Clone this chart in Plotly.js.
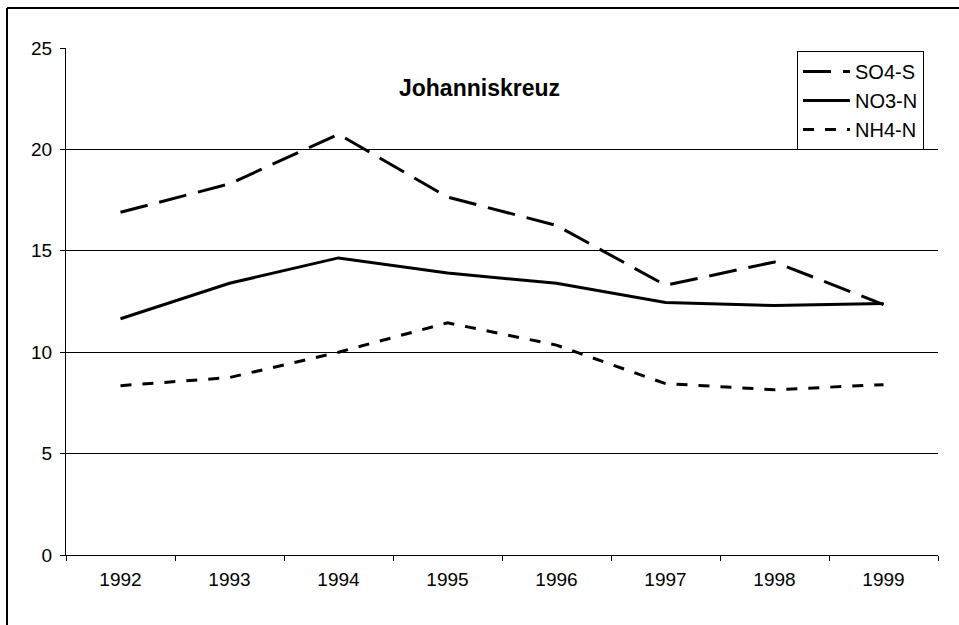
<!DOCTYPE html>
<html>
<head>
<meta charset="utf-8">
<script src="https://cdn.plot.ly/plotly-3.0.1.min.js"></script>
<style>
html,body{margin:0;padding:0;background:#fff;}
#chart{width:959px;height:625px;}
</style>
</head>
<body>
<div id="chart"></div>
<script>
const years = ["1992","1993","1994","1995","1996","1997","1998","1999"];
const so4s = [16.9, 18.3, 20.75, 17.65, 16.25, 13.3, 14.45, 12.35];
const no3n = [11.65, 13.4, 14.65, 13.9, 13.4, 12.45, 12.3, 12.4];
const nh4n = [8.35, 8.75, 10.0, 11.45, 10.35, 8.45, 8.15, 8.4];
const seriesNames = ["SO4-S", "NO3-N", "NH4-N"];
const yTicks = [0, 5, 10, 15, 20, 25];
const yGrid = [5, 10, 15, 20];
const titleText = "Johanniskreuz";

const FONT = "Liberation Sans, Arial, sans-serif";

const traces = [
  {x: years, y: so4s, name: seriesNames[0], type: "scatter", mode: "lines", legendgroup: "a",
   line: {color: "#000", width: 3, dash: "28px,12px"}},
  {x: years, y: no3n, name: seriesNames[1], type: "scatter", mode: "lines", legendgroup: "b",
   line: {color: "#000", width: 3}},
  {x: years, y: nh4n, name: seriesNames[2], type: "scatter", mode: "lines", legendgroup: "c",
   line: {color: "#000", width: 3, dash: "11px,11px"}},
  {x: years, y: nh4n, yaxis: "y2", type: "scatter", mode: "lines", showlegend: false,
   hoverinfo: "skip", line: {color: "rgba(0,0,0,0)", width: 0}}
];

const layout = {
  width: 959, height: 625,
  margin: {l: 66, r: 21, t: 48, b: 70},
  paper_bgcolor: "#fff", plot_bgcolor: "#fff",
  font: {family: FONT, size: 19, color: "#000"},
  showlegend: true,
  title: {text: "<b>" + titleText + "</b>", font: {family: FONT, size: 23, color: "#000"},
          x: (479.5 - 66) / 872, xref: "paper", xanchor: "center", y: 1 - 88/625, yref: "container", yanchor: "middle"},
  xaxis: {
    type: "category", range: [-0.5, 7.5], tickson: "boundaries",
    showline: true, linecolor: "#000", linewidth: 1,
    ticks: "outside", ticklen: 5, tickcolor: "#000", tickwidth: 1,
    showgrid: false, zeroline: false, fixedrange: true, ticklabelstandoff: 7,
    tickfont: {family: FONT, size: 19, color: "#000"}
  },
  yaxis: {
    range: [0, 25], tickvals: yTicks, ticktext: yTicks.map(String),
    showline: true, linecolor: "#000", linewidth: 1,
    ticks: "outside", ticklen: 5, tickcolor: "#000", tickwidth: 1,
    showgrid: false, zeroline: false, fixedrange: true, ticklabelstandoff: 4,
    tickfont: {family: FONT, size: 19, color: "#000"}
  },
  yaxis2: {
    range: [0, 25], overlaying: "y", tickvals: yGrid, showticklabels: false,
    showgrid: true, gridcolor: "#000", gridwidth: 1, zeroline: false, showline: false,
    ticks: "", fixedrange: true
  },
  legend: {
    x: (797 - 66) / 872, xanchor: "left", y: (555 - 51) / 507, yanchor: "top",
    bordercolor: "#000", borderwidth: 1, bgcolor: "#fff",
    font: {family: FONT, size: 20, color: "#000"},
    tracegroupgap: 0, itemwidth: 47
  },
  shapes: [
    {type: "line", xref: "paper", yref: "paper",
     x0: (7 - 66) / 872, x1: (959 - 66) / 872, y0: (555 - 8) / 507, y1: (555 - 8) / 507,
     line: {color: "#000", width: 2}},
    {type: "line", xref: "paper", yref: "paper",
     x0: (7 - 66) / 872, x1: (7 - 66) / 872, y0: (555 - 8) / 507, y1: (555 - 625) / 507,
     line: {color: "#000", width: 2}}
  ]
};

Plotly.newPlot("chart", traces, layout, {displayModeBar: false, staticPlot: true});
</script>
</body>
</html>
